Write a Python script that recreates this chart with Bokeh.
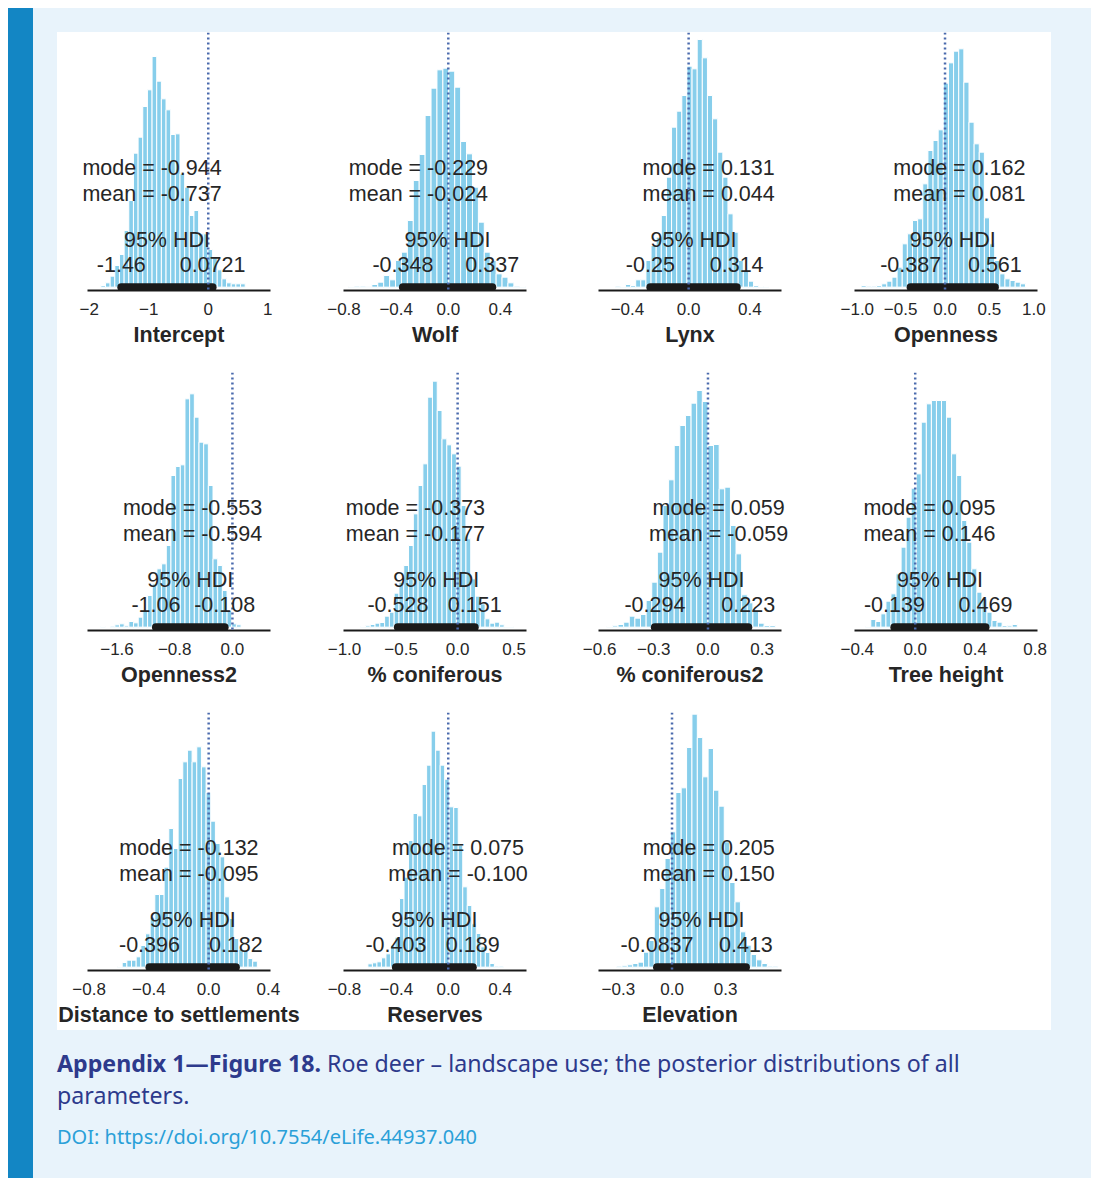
import numpy as np
from bokeh.plotting import figure
from bokeh.models import (Range1d, Span, LabelSet, ColumnDataSource, FixedTicker,
                          CustomJSTickFormatter, Div, Spacer)
from bokeh.layouts import row, column
from bokeh.core.properties import value
from bokeh.embed import file_html
from bokeh.resources import INLINE

# ---------------- data ----------------
params = ["Intercept", "Wolf", "Lynx", "Openness",
          "Openness2", "% coniferous", "% coniferous2", "Tree height",
          "Distance to settlements", "Reserves", "Elevation"]

# histogram bins: first edge and bin width (parameter units)
bin_start = [-1.804, -0.768, -0.480, -0.944, -1.824, -0.857, -0.560, -0.330, -0.610, -0.619, -0.310]
bin_width = [0.0782, 0.0454, 0.0335, 0.0578, 0.0648, 0.0423, 0.0311, 0.0337, 0.0312, 0.0348, 0.0301]

# bar heights (frequency, arbitrary units)
counts_intercept = [5, 13, 33, 65, 98, 170, 260, 402, 450, 542, 592, 692, 618, 565, 532, 458,
                    460, 340, 300, 215, 230, 160, 160, 113, 90, 52, 25, 13, 10, 10, 10]
counts_wolf = [2, 3, 3, 1, 8, 15, 35, 22, 80, 105, 200, 320, 398, 515, 597, 652, 657, 648, 600,
               437, 400, 300, 195, 105, 80, 40, 30, 13, 3, 2]
counts_lynx = [3, 2, 8, 5, 22, 22, 80, 125, 150, 215, 330, 480, 528, 575, 663, 655, 743, 688,
               575, 505, 405, 330, 220, 165, 80, 50, 18, 5, 2, 2]
counts_openness = [5, 3, 3, 5, 10, 18, 30, 60, 130, 160, 200, 205, 310, 410, 440, 472, 612, 673,
                   708, 715, 615, 495, 430, 405, 208, 130, 80, 40, 25, 20, 15, 10]
counts_openness2 = [2, 0, 3, 7, 10, 4, 17, 13, 30, 48, 95, 130, 175, 190, 245, 455, 482, 487,
                    685, 700, 630, 555, 550, 425, 205, 185, 110, 50, 10, 7]
counts_conif = [2, 4, 8, 12, 14, 33, 45, 102, 135, 185, 245, 340, 425, 490, 690, 738, 650, 565,
                547, 520, 483, 365, 265, 145, 93, 70, 25, 12, 15, 7, 2, 2]
counts_conif2 = [2, 4, 8, 15, 33, 27, 38, 80, 135, 225, 365, 442, 545, 605, 635, 672, 710, 677,
                 545, 548, 415, 420, 305, 220, 97, 73, 50, 12, 5, 5]
counts_tree = [2, 23, 17, 40, 78, 100, 160, 240, 330, 417, 460, 615, 670, 680, 680, 680, 630,
               520, 455, 320, 255, 175, 105, 85, 45, 20, 15, 5, 4, 8]
counts_dist = [2, 14, 21, 21, 31, 65, 100, 150, 218, 218, 300, 416, 356, 566, 616, 651, 616,
               661, 601, 524, 438, 371, 331, 211, 146, 86, 54, 51, 26, 18]
counts_reserves = [10, 13, 16, 28, 40, 66, 90, 206, 270, 380, 461, 454, 548, 606, 708, 651, 606,
                   564, 481, 479, 366, 241, 185, 130, 101, 61, 44, 11, 3, 3]
counts_elev = [3, 4, 7, 11, 15, 45, 80, 181, 236, 326, 406, 524, 538, 659, 759, 689, 571, 656,
               531, 483, 376, 254, 196, 106, 66, 38, 22, 11, 3, 3]
counts = [counts_intercept, counts_wolf, counts_lynx, counts_openness, counts_openness2,
          counts_conif, counts_conif2, counts_tree, counts_dist, counts_reserves, counts_elev]

mode_txt = ["-0.944", "-0.229", "0.131", "0.162", "-0.553", "-0.373", "0.059", "0.095",
            "-0.132", "0.075", "0.205"]
mean_txt = ["-0.737", "-0.024", "0.044", "0.081", "-0.594", "-0.177", "-0.059", "0.146",
            "-0.095", "-0.100", "0.150"]
hdi_low_txt = ["-1.46", "-0.348", "-0.25", "-0.387", "-1.06", "-0.528", "-0.294", "-0.139",
               "-0.396", "-0.403", "-0.0837"]
hdi_high_txt = ["0.0721", "0.337", "0.314", "0.561", "-0.108", "0.151", "0.223", "0.469",
                "0.182", "0.189", "0.413"]

tick_values = [[-2, -1, 0, 1], [-0.8, -0.4, 0, 0.4], [-0.4, 0, 0.4], [-1, -0.5, 0, 0.5, 1],
               [-1.6, -0.8, 0], [-1, -0.5, 0, 0.5], [-0.6, -0.3, 0, 0.3], [-0.4, 0, 0.4, 0.8],
               [-0.8, -0.4, 0, 0.4], [-0.8, -0.4, 0, 0.4], [-0.3, 0, 0.3]]
tick_decimals = [0, 1, 1, 1, 1, 1, 1, 1, 1, 1, 1]
# axis extent of each panel
x_limits = [(-2.028, 1.045), (-0.804, 0.600), (-0.589, 0.607), (-1.019, 1.041),
            (-2.009, 0.528), (-1.009, 0.609), (-0.606, 0.407), (-0.405, 0.816),
            (-0.811, 0.414), (-0.807, 0.603), (-0.411, 0.612)]
ref_value = 0.0

# ---------------- styling ----------------
TEXT = "#262626"
FONT = "Liberation Sans"
BAR = "#87ceeb"
Y_TEXT = [336, 260, 120, 45, 45]
AXIS_PX = 183                  # drawn axis length in pixels
COL_PAD = [30, 30, 30, 14]     # pixels on each side of the axis inside a panel
GAPS = [13, 12, 29]            # pixels between neighbouring panels


def make_panel(i):
    r, c = divmod(i, 4)
    pad = COL_PAD[c]
    fw = AXIS_PX + 2 * pad
    lo_lim, hi_lim = x_limits[i]
    upp = (hi_lim - lo_lim) / AXIS_PX
    xr = Range1d(lo_lim - pad * upp, hi_lim + pad * upp)
    p = figure(frame_width=fw, frame_height=258,
               x_range=xr, y_range=Range1d(-10, 764),
               y_axis_location=None, output_backend="svg", toolbar_location=None,
               min_border_left=0, min_border_right=0,
               min_border_top=0, min_border_bottom=(82 if r < 2 else 60),
               background_fill_color="white", border_fill_color="white",
               outline_line_color=None)
    p.grid.visible = False
    n = len(counts[i])
    edges = bin_start[i] + bin_width[i] * np.arange(n + 1)
    p.quad(left=edges[:-1], right=edges[1:], bottom=0, top=counts[i],
           fill_color=BAR, line_color="white", line_width=1)
    lo, hi = float(hdi_low_txt[i]), float(hdi_high_txt[i])
    p.segment(x0=[lo], y0=[0], x1=[hi], y1=[0], line_color="#1a1a1a",
              line_width=8, line_cap="round")
    p.add_layout(Span(location=ref_value, dimension="height", line_color="#4a6aad",
                      line_width=2.5, line_dash="2 3"))
    m = float(mode_txt[i])
    src = ColumnDataSource(dict(
        x=[m, m, (lo + hi) / 2, lo, hi], y=Y_TEXT,
        t=["mode = " + mode_txt[i], "mean = " + mean_txt[i], "95% HDI",
           hdi_low_txt[i], hdi_high_txt[i]]))
    p.add_layout(LabelSet(x="x", y="y", text="t", source=src, text_align="center",
                          text_baseline="alphabetic", text_font=value(FONT),
                          text_font_size="21.5px", text_color=TEXT))
    ax = p.xaxis[0]
    ax.bounds = (lo_lim, hi_lim)
    ax.ticker = FixedTicker(ticks=tick_values[i])
    ax.formatter = CustomJSTickFormatter(args=dict(d=tick_decimals[i]),
                                         code="return tick.toFixed(d).replace('-', '\u2212');")
    ax.axis_line_color = "#1a1a1a"
    ax.axis_line_width = 2
    ax.major_tick_line_color = None
    ax.minor_tick_line_color = None
    ax.major_tick_out = 0
    ax.major_tick_in = 0
    ax.minor_tick_out = 0
    ax.minor_tick_in = 0
    ax.major_label_text_font = FONT
    ax.major_label_text_font_size = "17px"
    ax.major_label_text_color = TEXT
    ax.major_label_standoff = 12
    ax.axis_label = params[i]
    ax.axis_label_text_font = FONT
    ax.axis_label_text_font_size = "21.5px"
    ax.axis_label_text_font_style = "bold"
    ax.axis_label_text_color = TEXT
    ax.axis_label_standoff = 5
    return p


figs = [make_panel(i) for i in range(len(params))]


def panel_row(fs):
    items = []
    for k, f in enumerate(fs):
        if k > 0:
            items.append(Spacer(width=GAPS[k - 1]))
        items.append(f)
    return row(*items)


grid = column(panel_row(figs[0:4]), panel_row(figs[4:8]), panel_row(figs[8:11]),
              styles={"background-color": "white"})

caption_html = (
    '<div style="font-family:\'Noto Sans\';font-size:23.2px;line-height:32px;color:#2d3a8c;white-space:nowrap;">'
    '<b>Appendix 1\u2014Figure 18.</b> Roe deer \u2013 landscape use; the posterior distributions of all'
    '<br>parameters.</div>'
    '<div style="font-family:\'Noto Sans\';font-size:20px;line-height:26px;color:#2aa0d8;margin-top:13px;">'
    'DOI: https://doi.org/10.7554/eLife.44937.040</div>'
)
caption = Div(text=caption_html, width=1034, height=103, margin=0)

inner = column(Spacer(height=24),
               row(Spacer(width=24), grid),
               Spacer(height=17),
               row(Spacer(width=24), caption),
               Spacer(height=28),
               styles={"background-color": "#e8f3fb"})
bar = Div(text="", width=25, height=1170, margin=0, styles={"background-color": "#1386c4"})
page = column(Spacer(height=8), row(Spacer(width=8), bar, inner))

open("out.html", "w").write(file_html(page, INLINE))
